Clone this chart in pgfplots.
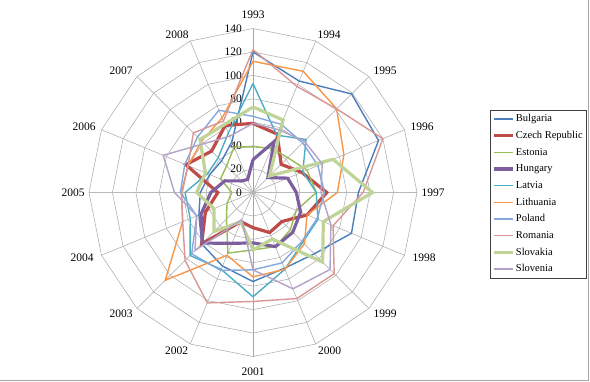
\documentclass[border=0pt]{standalone}
\usepackage{fontspec}
\setmainfont{Liberation Serif}
\usepackage{pgfplots}
\usepgfplotslibrary{polar}
\pgfplotsset{compat=1.18}
\usepackage{pgfplotstable}

\definecolor{cBul}{HTML}{4A7EBB}
\definecolor{cCze}{HTML}{BE4B48}
\definecolor{cEst}{HTML}{9BBB59}
\definecolor{cHun}{HTML}{7D5FA0}
\definecolor{cLat}{HTML}{4BACC6}
\definecolor{cLit}{HTML}{F79646}
\definecolor{cPol}{HTML}{86A8DC}
\definecolor{cRom}{HTML}{DA9694}
\definecolor{cSlk}{HTML}{BFD496}
\definecolor{cSln}{HTML}{B3A2C7}
\definecolor{gridc}{HTML}{A6A6A6}

% angle (deg, 1993 at the top, clockwise) and one column per country;
% the first row is repeated at the end to close each polygon
\pgfplotstableread{
ang   Bul Cze Est Hun Lat Lit Pol Rom Slk Sln
90    120 59  39  28  93  112 65  122 73  59
67.5  103 54  41  47  53  112 63  98  67  58
45    119 34  42  18  64  101 60  101 20  62
22.5  116 45  50  32  46  84  60  120 74  64
0     90  63  54  37  54  72  61  94  102 58
337.5 91  50  40  44  60  50  59  74  65  72
315   74  35  45  48  60  62  59  98  84  93
292.5 70  37  50  50  71  71  65  98  43  89
270   76  30  49  43  89  72  66  93  49  66
247.5 68  27  56  47  71  58  72  102 27  25
225   62  62  32  61  76  106 74  82  47  70
202.5 50  44  24  48  58  65  52  65  36  52
180   45  30  18  36  58  61  62  61  48  67
157.5 40  62  30  26  42  60  63  60  44  83
135   38  50  32  14  42  62  67  72  64  59
112.5 47  62  42  12  55  69  76  66  63  52
90    120 59  39  28  93  112 65  122 73  59
}\radar

\begin{document}
\begin{tikzpicture}[x=1pt,y=1pt]
\path[use as bounding box] (0,0) rectangle (590,381);
\draw[gridc, line width=0.8pt] (0,1) -- (588.5,1) -- (588.5,381);

\begin{polaraxis}[
  at={(253pt,188.5pt)}, anchor=center,
  scale only axis, width=328pt, height=328pt,
  xmin=0, xmax=360, ymin=0, ymax=140,
  xtick=\empty, ytick=\empty,
  axis line style={draw=none},
  clip=false,
  legend cell align=left,
  legend style={at={(1.2226,0.4954)}, anchor=west,
    draw=black!75, line width=0.5pt,
    font=\fontsize{10.5}{12}\selectfont,
    inner xsep=2pt, inner ysep=2pt, row sep=3.2pt,
    nodes={inner sep=1.5pt, text height=8pt, text depth=2.5pt}},
  legend image code/.code={\draw[#1] (0pt,0pt) -- (19pt,0pt);},
]
% polygon rings
\pgfplotsinvokeforeach{20,40,60,80,100,120,140}{
  \draw[gridc, line width=0.5pt] (axis cs:90,#1) -- (axis cs:67.5,#1) -- (axis cs:45,#1)
   -- (axis cs:22.5,#1) -- (axis cs:0,#1) -- (axis cs:337.5,#1) -- (axis cs:315,#1)
   -- (axis cs:292.5,#1) -- (axis cs:270,#1) -- (axis cs:247.5,#1) -- (axis cs:225,#1)
   -- (axis cs:202.5,#1) -- (axis cs:180,#1) -- (axis cs:157.5,#1) -- (axis cs:135,#1)
   -- (axis cs:112.5,#1) -- cycle;
}
% spokes
\pgfplotsinvokeforeach{90,67.5,45,22.5,337.5,315,292.5,270,247.5,225,202.5,157.5,135,112.5}{
  \draw[gridc, line width=0.5pt] (axis cs:0,0) -- (axis cs:#1,140);
}
\draw[black!28, line width=1.6pt] (axis cs:180,140) -- (axis cs:0,140);
% radial scale
\pgfplotsinvokeforeach{0,20,40,60,80,100,120,140}{
  \node[anchor=east, inner sep=0pt, xshift=-11pt, font=\fontsize{11.5}{12}\selectfont]
    at (axis cs:90,#1) {#1};
}

\addplot[cBul, line width=1.4pt] table[x=ang, y=Bul] {\radar};
\addlegendentry{Bulgaria}
\addplot[cCze, line width=3.2pt] table[x=ang, y=Cze] {\radar};
\addlegendentry{Czech Republic}
\addplot[cEst, line width=1.4pt] table[x=ang, y=Est] {\radar};
\addlegendentry{Estonia}
\addplot[cHun, line width=3.2pt] table[x=ang, y=Hun] {\radar};
\addlegendentry{Hungary}
\addplot[cLat, line width=1.4pt] table[x=ang, y=Lat] {\radar};
\addlegendentry{Latvia}
\addplot[cLit, line width=1.4pt] table[x=ang, y=Lit] {\radar};
\addlegendentry{Lithuania}
\addplot[cPol, line width=1.4pt] table[x=ang, y=Pol] {\radar};
\addlegendentry{Poland}
\addplot[cRom, line width=1.4pt] table[x=ang, y=Rom] {\radar};
\addlegendentry{Romania}
\addplot[cSlk, line width=3.2pt] table[x=ang, y=Slk] {\radar};
\addlegendentry{Slovakia}
\addplot[cSln, line width=1.4pt] table[x=ang, y=Sln] {\radar};
\addlegendentry{Slovenia}
\end{polaraxis}

% category labels around the outer ring
\begin{scope}[every node/.style={font=\fontsize{11.5}{12}\selectfont, inner sep=0pt}]
\node at (253,366) {1993};
\node at (329,346) {1994};
\node at (385,310) {1995};
\node at (422,254) {1996};
\node at (433,188.5) {1997};
\node at (424,123) {1998};
\node at (385,67) {1999};
\node at (329.5,30) {2000};
\node at (253,9) {2001};
\node at (176.5,30) {2002};
\node at (121,67) {2003};
\node at (82,123) {2004};
\node at (73,188.5) {2005};
\node at (84,254) {2006};
\node at (121,310) {2007};
\node at (177,346) {2008};
\end{scope}
\end{tikzpicture}
\end{document}
